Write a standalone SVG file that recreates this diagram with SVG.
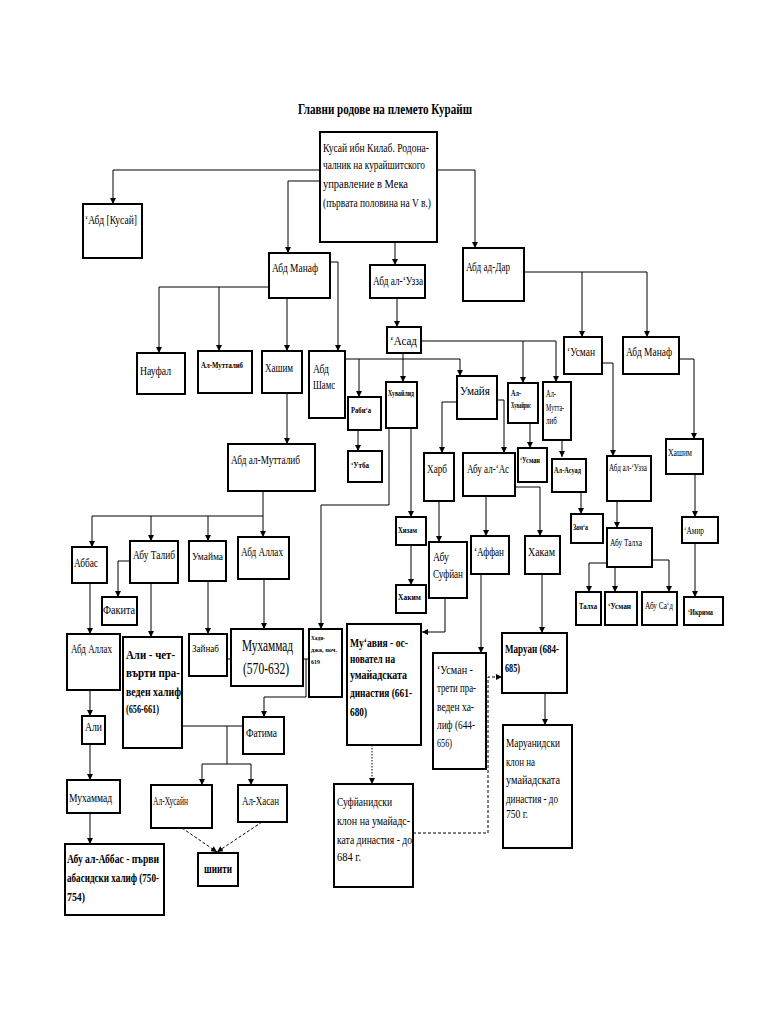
<svg xmlns="http://www.w3.org/2000/svg" width="768" height="1024" viewBox="0 0 768 1024">
<style>
rect{fill:#fff;stroke:#000;stroke-width:2}
text{font-family:"Liberation Serif","DejaVu Serif",serif;font-size:12px;fill:#000}
.s{font-size:8px;font-weight:bold}
.xs{font-size:7px;font-weight:bold}
.m{font-size:10px}
.b{font-size:13px;font-weight:bold}
.big{font-size:17px}
.ttl{font-size:15px;font-weight:bold}
#conn path{fill:none;stroke:#000;stroke-width:1}
#conn path.a{marker-end:url(#ar)}
#conn path.d{stroke-dasharray:3,2}
#conn path.dt{stroke-dasharray:1.5,1.5}
</style>
<defs>
<marker id="ar" markerUnits="userSpaceOnUse" markerWidth="6" markerHeight="6" refX="6" refY="3" orient="auto"><path d="M0,0 L6,3 L0,6 z" fill="#000"/></marker>
</defs>
<rect x="0" y="0" width="768" height="1024" style="stroke:none"/>
<text class="ttl" x="298" y="114" textLength="174" lengthAdjust="spacingAndGlyphs">Главни родове на племето Курайш</text>

<g id="conn">
<path class="a" d="M320,170 H113 V204"/>
<path class="a" d="M320,181 H288 V253"/>
<path class="a" d="M437,170 H475 V248"/>
<path class="a" d="M395,242 V265"/>
<path class="a" d="M269,287 H159 V353"/>
<path class="a" d="M219,287 V351"/>
<path class="a" d="M287,298 V351"/>
<path class="a" d="M330,262 H338 V351"/>
<path class="a" d="M397,298 V327"/>
<path class="a" d="M345,359 H460 V376"/>
<path class="a" d="M359,359 V397"/>
<path class="a" d="M358,430 V451"/>
<path class="a" d="M403,353 V382"/>
<path class="a" d="M421,341 H556 V382"/>
<path class="a" d="M523,341 V383"/>
<path class="a" d="M411,428 V517"/>
<path class="a" d="M389,428 V505 H321 V629"/>
<path class="a" d="M411,545 V585"/>
<path class="a" d="M457,402 H442 V453"/>
<path class="a" d="M497,400 H504 V453"/>
<path class="a" d="M439,501 V542"/>
<path class="a" d="M445,598 V632 H422"/>
<path class="a" d="M486,496 V536"/>
<path class="a" d="M515,487 H540 V536"/>
<path class="a" d="M481,574 V653"/>
<path class="a" d="M542,574 V633"/>
<path class="a" d="M545,693 V725"/>
<path class="a" d="M530,423 V448"/>
<path class="a" d="M562,440 V457"/>
<path class="a" d="M581,492 V514"/>
<path class="a" d="M524,272 H647 V337"/>
<path class="a" d="M582,272 V337"/>
<path class="a" d="M602,363 H613 V456"/>
<path class="a" d="M617,501 V528"/>
<path class="a" d="M607,563 H589 V592"/>
<path class="a" d="M615,567 V592"/>
<path class="a" d="M652,560 H669 V592"/>
<path class="a" d="M679,359 H694 V439"/>
<path class="a" d="M695,474 V517"/>
<path class="a" d="M695,543 V597"/>
<path class="a" d="M287,393 V444"/>
<path class="a" d="M263,491 V537"/>
<path class="a" d="M263,516 H92 V547"/>
<path class="a" d="M151,516 V541"/>
<path class="a" d="M208,516 V541"/>
<path class="a" d="M130,561 H118 V597"/>
<path class="a" d="M151,583 V637"/>
<path class="a" d="M90,583 V634"/>
<path class="a" d="M90,690 V716"/>
<path class="a" d="M90,744 V780"/>
<path class="a" d="M90,813 V844"/>
<path class="a" d="M208,581 V634"/>
<path class="a" d="M264,579 V629"/>
<path d="M227,659 H231"/>
<path d="M303,659 H309"/>
<path class="a" d="M306,659 V697 H264 V717"/>
<path d="M182,726 H243"/>
<path d="M227,726 V764 M202,764 H251"/>
<path class="a" d="M202,764 V785"/>
<path class="a" d="M251,764 V785"/>
<path class="a d" d="M182,828 L217,852"/>
<path class="a d" d="M262,822 L217,852"/>
<path class="a dt" d="M372,745 V784"/>
<path class="a d" d="M413,833 H488 V677 H502"/>
</g>

<g id="kusay"><rect x="320" y="132" width="117" height="110"/>
<text x="323" y="152" textLength="106" lengthAdjust="spacingAndGlyphs">Кусай ибн Килаб. Родона-</text>
<text x="323" y="169" textLength="102" lengthAdjust="spacingAndGlyphs">чалник на курайшитского</text>
<text x="323" y="188" textLength="85" lengthAdjust="spacingAndGlyphs">управление в Мека</text>
<text x="323" y="207" textLength="108" lengthAdjust="spacingAndGlyphs">(първата половина на V в.)</text></g>
<g id="abd-kusay"><rect x="83" y="204" width="59" height="54"/><text x="85" y="224" textLength="52" lengthAdjust="spacingAndGlyphs">ʻАбд [Кусай]</text></g>
<g id="abd-manaf"><rect x="269" y="253" width="61" height="45"/><text x="272" y="272" textLength="46" lengthAdjust="spacingAndGlyphs">Абд Манаф</text></g>
<g id="abd-al-uzza"><rect x="370" y="265" width="55" height="33"/><text x="373" y="285" textLength="50" lengthAdjust="spacingAndGlyphs">Абд ал-ʻУзза</text></g>
<g id="abd-ad-dar"><rect x="463" y="248" width="61" height="53"/><text x="466" y="271" textLength="44" lengthAdjust="spacingAndGlyphs">Абд ад-Дар</text></g>

<g id="naufal"><rect x="137" y="353" width="48" height="41"/><text x="140" y="375" textLength="31" lengthAdjust="spacingAndGlyphs">Науфал</text></g>
<g id="al-muttalib"><rect x="198" y="351" width="54" height="42"/><text class="s" x="201" y="368" textLength="42" lengthAdjust="spacingAndGlyphs">Ал-Мутталиб</text></g>
<g id="hashim"><rect x="262" y="351" width="40" height="42"/><text x="265" y="372" textLength="28" lengthAdjust="spacingAndGlyphs">Хашим</text></g>
<g id="abd-shams"><rect x="309" y="351" width="36" height="67"/><text x="313" y="373" textLength="16" lengthAdjust="spacingAndGlyphs">Абд</text><text x="313" y="389" textLength="22" lengthAdjust="spacingAndGlyphs">Шамс</text></g>
<g id="rabia"><rect x="348" y="397" width="33" height="33"/><text class="s" x="351" y="413" textLength="20" lengthAdjust="spacingAndGlyphs">Рабиʻа</text></g>
<g id="utba"><rect x="348" y="451" width="34" height="31"/><text class="s" x="351" y="468" textLength="18" lengthAdjust="spacingAndGlyphs">ʻУтба</text></g>
<g id="asad"><rect x="387" y="327" width="34" height="26"/><text x="390" y="345" textLength="27" lengthAdjust="spacingAndGlyphs">ʻАсад</text></g>
<g id="huwaylid"><rect x="386" y="382" width="31" height="46"/><text class="s" x="388" y="396" textLength="26" lengthAdjust="spacingAndGlyphs">Хувайлид</text></g>
<g id="hizam"><rect x="396" y="517" width="30" height="28"/><text class="s" x="398" y="533" textLength="19" lengthAdjust="spacingAndGlyphs">Хизам</text></g>
<g id="hakim"><rect x="396" y="585" width="30" height="28"/><text class="s" x="398" y="600" textLength="23" lengthAdjust="spacingAndGlyphs">Хаким</text></g>
<g id="umayya"><rect x="457" y="376" width="40" height="43"/><text x="460" y="395" textLength="30" lengthAdjust="spacingAndGlyphs">Умайя</text></g>
<g id="al-huwayris"><rect x="508" y="383" width="30" height="40"/><text class="s" x="511" y="396" textLength="10" lengthAdjust="spacingAndGlyphs">Ал-</text><text class="s" x="511" y="408" textLength="20" lengthAdjust="spacingAndGlyphs">Хувайрис</text></g>
<g id="usman-small"><rect x="518" y="448" width="29" height="34"/><text class="s" x="520" y="463" textLength="20" lengthAdjust="spacingAndGlyphs">ʻУсман</text></g>
<g id="al-muttalib2"><rect x="543" y="382" width="28" height="58"/><text class="m" x="546" y="397" textLength="10" lengthAdjust="spacingAndGlyphs">Ал-</text><text class="m" x="546" y="411" textLength="18" lengthAdjust="spacingAndGlyphs">Мутта-</text><text class="m" x="546" y="424" textLength="11" lengthAdjust="spacingAndGlyphs">либ</text></g>
<g id="al-aswad"><rect x="552" y="459" width="34" height="33"/><text class="s" x="554" y="473" textLength="27" lengthAdjust="spacingAndGlyphs">Ал-Асуад</text></g>
<g id="zama"><rect x="571" y="514" width="32" height="29"/><text class="s" x="573" y="530" textLength="15" lengthAdjust="spacingAndGlyphs">Замʻа</text></g>
<g id="harb"><rect x="424" y="453" width="30" height="48"/><text x="427" y="473" textLength="20" lengthAdjust="spacingAndGlyphs">Харб</text></g>
<g id="abu-al-as"><rect x="463" y="453" width="52" height="43"/><text x="467" y="473" textLength="42" lengthAdjust="spacingAndGlyphs">Абу ал-ʻАс</text></g>
<g id="abu-sufyan"><rect x="429" y="542" width="38" height="56"/><text x="433" y="561" textLength="16" lengthAdjust="spacingAndGlyphs">Абу</text><text x="433" y="578" textLength="30" lengthAdjust="spacingAndGlyphs">Суфйан</text></g>
<g id="affan"><rect x="471" y="536" width="38" height="38"/><text x="474" y="556" textLength="30" lengthAdjust="spacingAndGlyphs">ʻАффан</text></g>
<g id="hakam"><rect x="525" y="536" width="35" height="38"/><text x="528" y="556" textLength="27" lengthAdjust="spacingAndGlyphs">Хакам</text></g>
<g id="usman-caliph"><rect x="433" y="653" width="53" height="116"/>
<text x="437" y="674" textLength="36" lengthAdjust="spacingAndGlyphs">ʻУсман -</text>
<text x="437" y="692" textLength="39" lengthAdjust="spacingAndGlyphs">трети пра-</text>
<text x="437" y="711" textLength="37" lengthAdjust="spacingAndGlyphs">веден ха-</text>
<text x="437" y="729" textLength="38" lengthAdjust="spacingAndGlyphs">лиф (644-</text>
<text x="437" y="747" textLength="15" lengthAdjust="spacingAndGlyphs">656)</text></g>
<g id="maruan"><rect x="502" y="633" width="65" height="60"/><text class="b" x="505" y="653" textLength="54" lengthAdjust="spacingAndGlyphs">Маруан (684-</text><text class="b" x="505" y="672" textLength="15" lengthAdjust="spacingAndGlyphs">685)</text></g>
<g id="marwanid"><rect x="503" y="725" width="69" height="123"/>
<text x="506" y="747" textLength="54" lengthAdjust="spacingAndGlyphs">Маруанидски</text>
<text x="506" y="766" textLength="29" lengthAdjust="spacingAndGlyphs">клон на</text>
<text x="506" y="784" textLength="54" lengthAdjust="spacingAndGlyphs">умайадската</text>
<text x="506" y="803" textLength="52" lengthAdjust="spacingAndGlyphs">династия - до</text>
<text x="506" y="818" textLength="22" lengthAdjust="spacingAndGlyphs">750 г.</text></g>
<g id="muawiya"><rect x="347" y="624" width="74" height="121"/>
<text class="b" x="350" y="647" textLength="58" lengthAdjust="spacingAndGlyphs">Муʻавия - ос-</text>
<text class="b" x="350" y="663" textLength="45" lengthAdjust="spacingAndGlyphs">новател на</text>
<text class="b" x="350" y="679" textLength="57" lengthAdjust="spacingAndGlyphs">умайадската</text>
<text class="b" x="350" y="697" textLength="62" lengthAdjust="spacingAndGlyphs">династия (661-</text>
<text class="b" x="350" y="716" textLength="17" lengthAdjust="spacingAndGlyphs">680)</text></g>
<g id="sufyanid"><rect x="334" y="784" width="79" height="103"/>
<text x="337" y="806" textLength="55" lengthAdjust="spacingAndGlyphs">Суфйанидски</text>
<text x="337" y="825" textLength="73" lengthAdjust="spacingAndGlyphs">клон на умайадс-</text>
<text x="337" y="844" textLength="75" lengthAdjust="spacingAndGlyphs">ката династия - до</text>
<text x="337" y="861" textLength="24" lengthAdjust="spacingAndGlyphs">684 г.</text></g>
<g id="khadija"><rect x="309" y="629" width="33" height="68"/><text class="xs" x="311" y="640" textLength="14" lengthAdjust="spacingAndGlyphs">Хади-</text><text class="xs" x="311" y="652" textLength="26" lengthAdjust="spacingAndGlyphs">джа, поч.</text><text class="xs" x="311" y="664" textLength="9" lengthAdjust="spacingAndGlyphs">619</text></g>

<g id="usman2"><rect x="564" y="337" width="38" height="37"/><text x="567" y="356" textLength="28" lengthAdjust="spacingAndGlyphs">ʻУсман</text></g>
<g id="abd-manaf2"><rect x="623" y="337" width="56" height="37"/><text x="626" y="356" textLength="46" lengthAdjust="spacingAndGlyphs">Абд Манаф</text></g>
<g id="abd-al-uzza2"><rect x="607" y="456" width="44" height="45"/><text class="m" x="609" y="471" textLength="38" lengthAdjust="spacingAndGlyphs">Абд ал-ʻУзза</text></g>
<g id="abu-talha"><rect x="607" y="528" width="45" height="39"/><text class="m" x="610" y="546" textLength="32" lengthAdjust="spacingAndGlyphs">Абу Талха</text></g>
<g id="talha"><rect x="576" y="592" width="25" height="33"/><text class="s" x="579" y="609" textLength="18" lengthAdjust="spacingAndGlyphs">Талха</text></g>
<g id="usman3"><rect x="605" y="592" width="32" height="33"/><text class="s" x="608" y="609" textLength="23" lengthAdjust="spacingAndGlyphs">ʻУсман</text></g>
<g id="abu-sad"><rect x="642" y="592" width="35" height="33"/><text class="m" x="645" y="609" textLength="28" lengthAdjust="spacingAndGlyphs">Абу Саʻд</text></g>
<g id="hashim2"><rect x="666" y="439" width="37" height="35"/><text class="m" x="668" y="456" textLength="24" lengthAdjust="spacingAndGlyphs">Хашим</text></g>
<g id="amir"><rect x="682" y="517" width="36" height="26"/><text class="m" x="684" y="534" textLength="20" lengthAdjust="spacingAndGlyphs">ʻАмир</text></g>
<g id="ikrima"><rect x="684" y="597" width="39" height="28"/><text class="s" x="688" y="615" textLength="25" lengthAdjust="spacingAndGlyphs">ʻИкрима</text></g>

<g id="abd-al-muttalib"><rect x="228" y="444" width="87" height="47"/><text x="231" y="464" textLength="69" lengthAdjust="spacingAndGlyphs">Абд ал-Мутталиб</text></g>
<g id="abbas"><rect x="72" y="547" width="35" height="36"/><text x="74" y="567" textLength="24" lengthAdjust="spacingAndGlyphs">Аббас</text></g>
<g id="abu-talib"><rect x="130" y="541" width="48" height="42"/><text x="133" y="559" textLength="42" lengthAdjust="spacingAndGlyphs">Абу Талиб</text></g>
<g id="umayma"><rect x="189" y="541" width="37" height="40"/><text class="m" x="192" y="560" textLength="31" lengthAdjust="spacingAndGlyphs">Умайма</text></g>
<g id="abd-allah"><rect x="238" y="537" width="51" height="42"/><text x="241" y="556" textLength="42" lengthAdjust="spacingAndGlyphs">Абд Аллах</text></g>
<g id="fakhita"><rect x="102" y="597" width="35" height="28"/><text x="103" y="614" textLength="32" lengthAdjust="spacingAndGlyphs">Факита</text></g>
<g id="ali-caliph"><rect x="123" y="637" width="59" height="111"/>
<text class="b" x="126" y="659" textLength="49" lengthAdjust="spacingAndGlyphs">Али - чет-</text>
<text class="b" x="126" y="677" textLength="54" lengthAdjust="spacingAndGlyphs">върти пра-</text>
<text class="b" x="126" y="696" textLength="55" lengthAdjust="spacingAndGlyphs">веден халиф</text>
<text class="b" x="126" y="713" textLength="33" lengthAdjust="spacingAndGlyphs">(656-661)</text></g>
<g id="abd-allah2"><rect x="67" y="634" width="53" height="56"/><text x="71" y="653" textLength="41" lengthAdjust="spacingAndGlyphs">Абд Аллах</text></g>
<g id="ali2"><rect x="82" y="716" width="23" height="28"/><text x="85" y="731" textLength="17" lengthAdjust="spacingAndGlyphs">Али</text></g>
<g id="muhammad2"><rect x="67" y="780" width="53" height="33"/><text x="69" y="802" textLength="43" lengthAdjust="spacingAndGlyphs">Мухаммад</text></g>
<g id="abu-al-abbas"><rect x="65" y="844" width="99" height="71"/>
<text class="b" x="67" y="863" textLength="92" lengthAdjust="spacingAndGlyphs">Абу ал-Аббас - първи</text>
<text class="b" x="67" y="882" textLength="92" lengthAdjust="spacingAndGlyphs">абасидски халиф (750-</text>
<text class="b" x="67" y="901" textLength="18" lengthAdjust="spacingAndGlyphs">754)</text></g>
<g id="zaynab"><rect x="189" y="634" width="38" height="42"/><text class="m" x="192" y="652" textLength="27" lengthAdjust="spacingAndGlyphs">Зайнаб</text></g>
<g id="muhammad"><rect x="231" y="629" width="72" height="57"/><text class="big" transform="translate(242,651) scale(0.7,1)" x="0" y="0" textLength="73" lengthAdjust="spacingAndGlyphs">Мухаммад</text><text class="big" transform="translate(243,674) scale(0.7,1)" x="0" y="0" textLength="66" lengthAdjust="spacingAndGlyphs">(570-632)</text></g>
<g id="fatima"><rect x="243" y="717" width="41" height="37"/><text x="246" y="737" textLength="31" lengthAdjust="spacingAndGlyphs">Фатима</text></g>
<g id="al-husayn"><rect x="151" y="785" width="61" height="43"/><text x="153" y="805" textLength="35" lengthAdjust="spacingAndGlyphs">Ал-Хусайн</text></g>
<g id="al-hasan"><rect x="238" y="785" width="49" height="37"/><text x="242" y="805" textLength="37" lengthAdjust="spacingAndGlyphs">Ал-Хасан</text></g>
<g id="shiites"><rect x="198" y="853" width="40" height="33"/><text class="b" x="204" y="873" textLength="28" lengthAdjust="spacingAndGlyphs">шиити</text></g>
</svg>
